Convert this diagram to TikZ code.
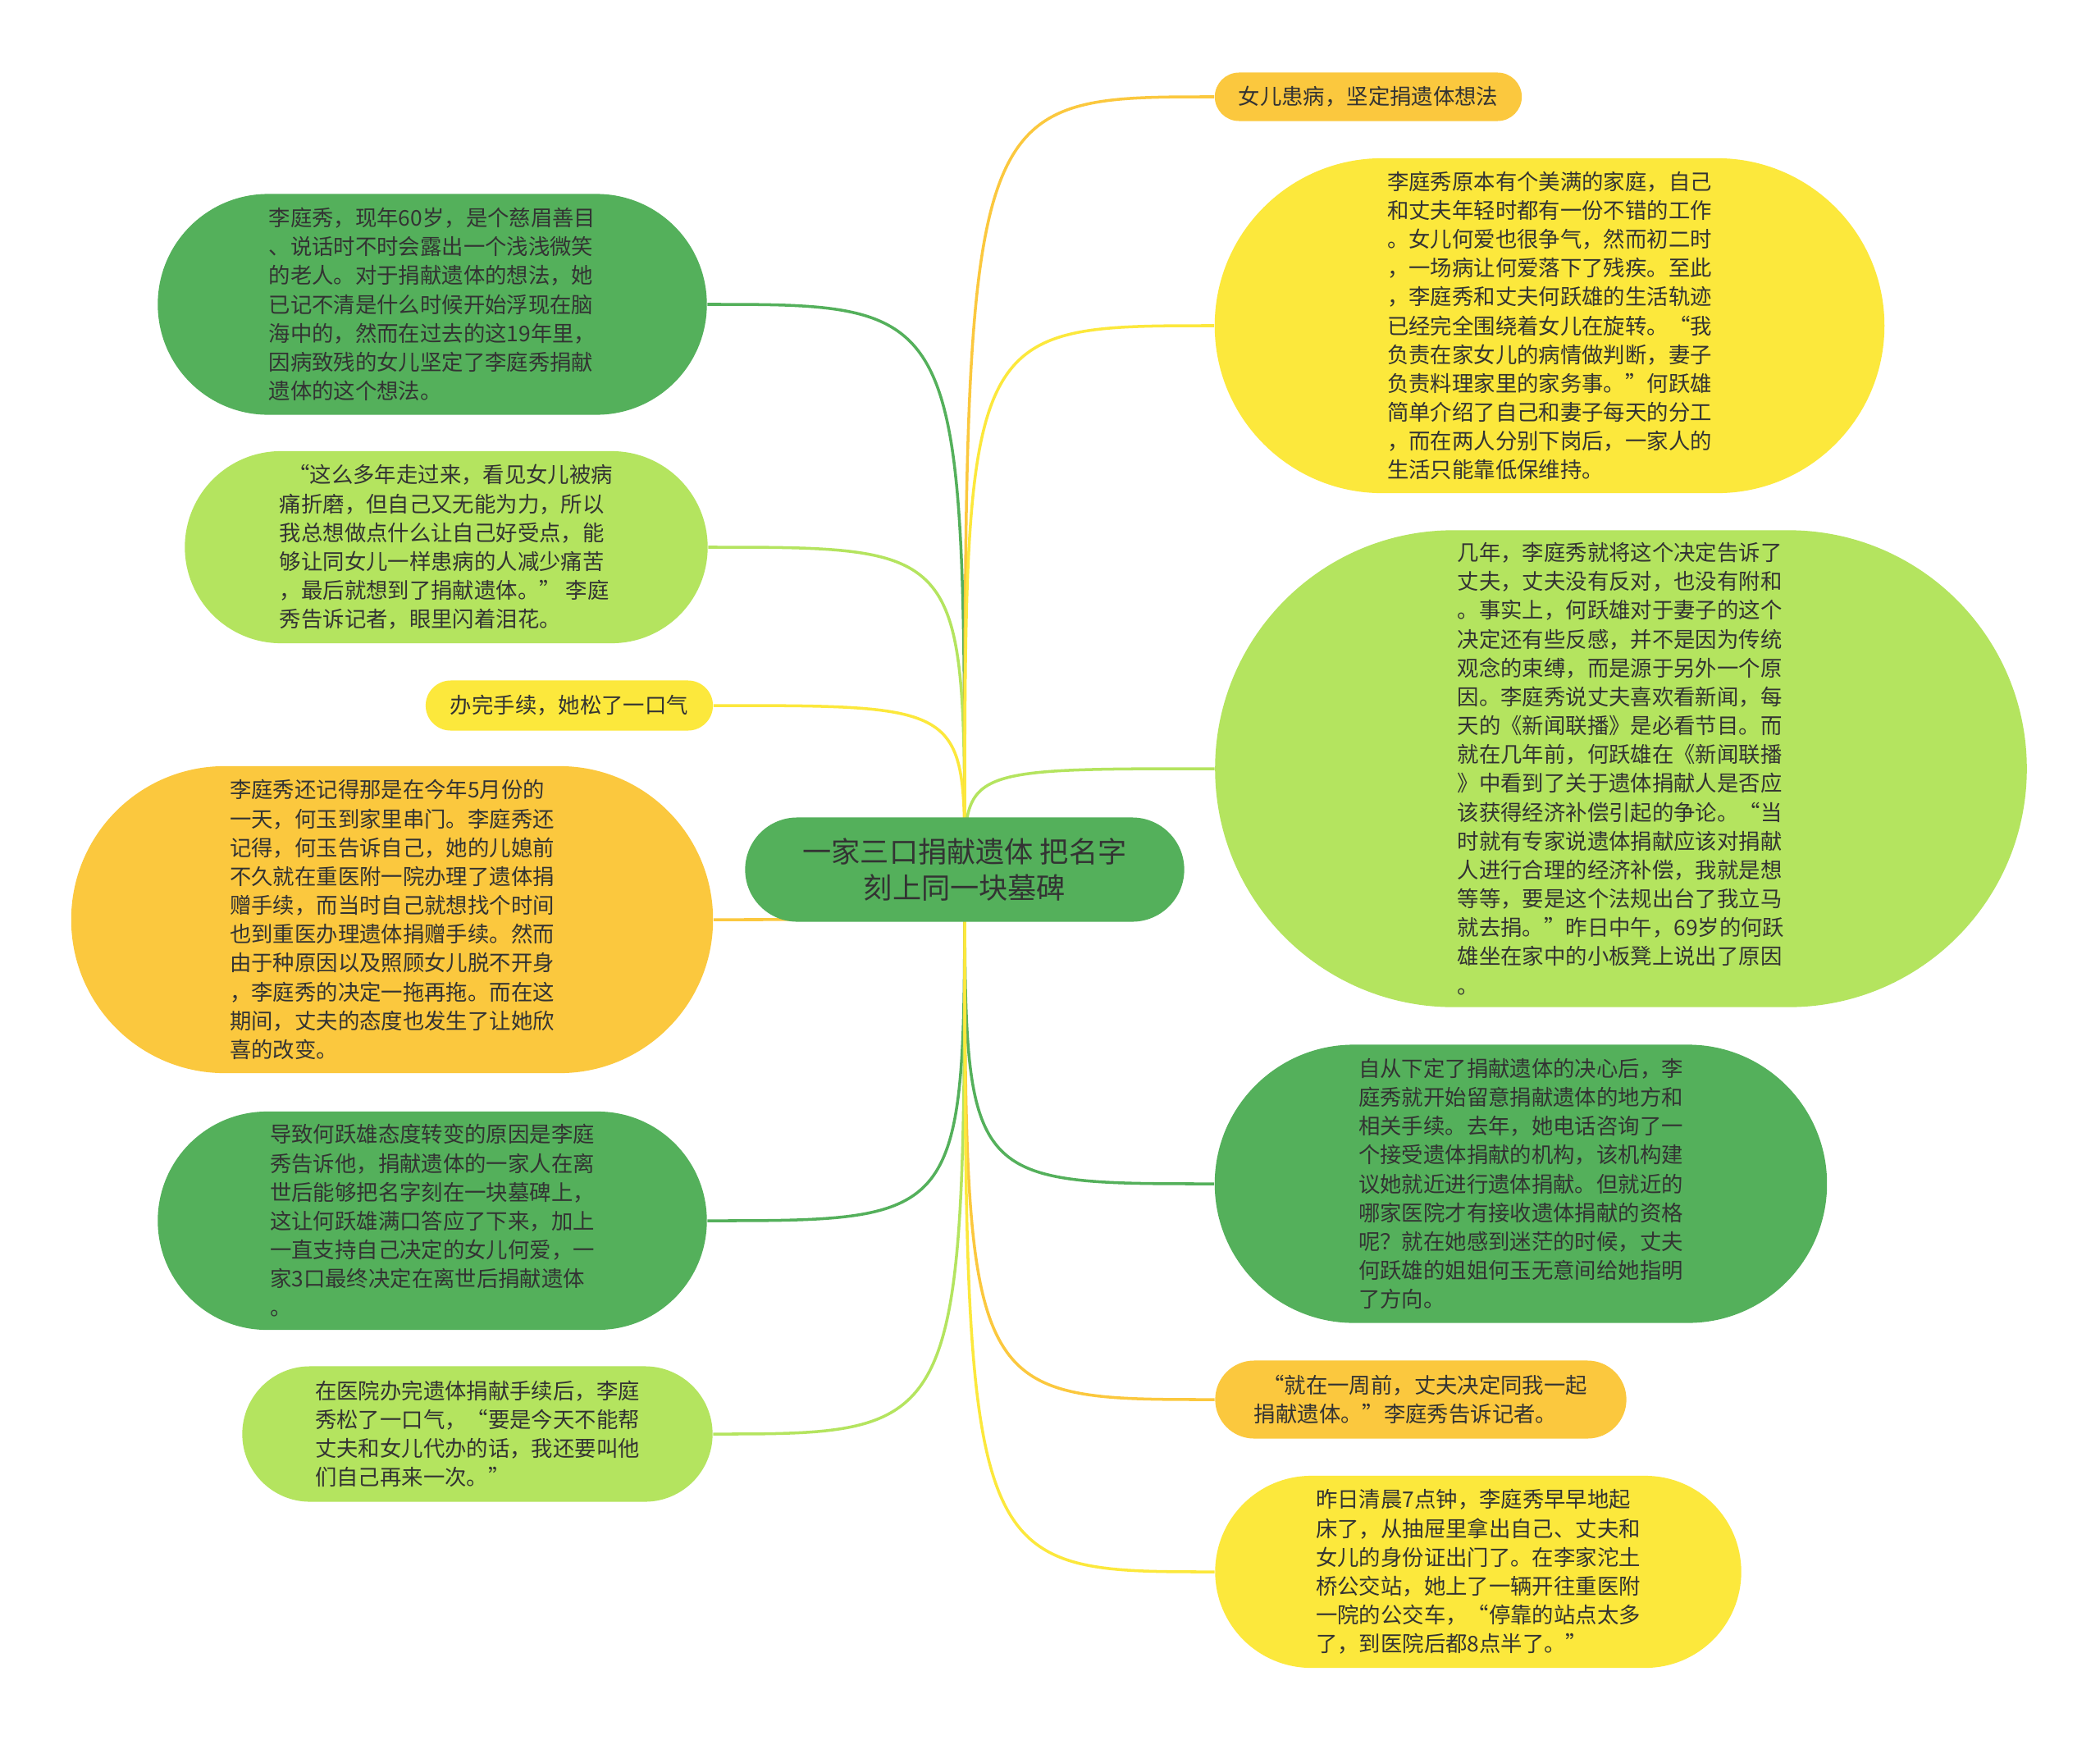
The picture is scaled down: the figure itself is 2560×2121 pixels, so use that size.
\documentclass[tikz,border=0pt]{standalone}
\usepackage{fontspec}
\setmainfont{Noto Sans CJK SC}
\usepackage{xcolor}
\usepackage{tikz}
\usetikzlibrary{shapes,backgrounds}

\definecolor{dkgreen}{HTML}{54B05B}
\definecolor{ltgreen}{HTML}{B4E45F}
\definecolor{yel}{HTML}{FCE83C}
\definecolor{orng}{HTML}{FBC83E}

\begin{document}
\begin{tikzpicture}[
    x=0.01cm, y=-0.01cm,
    topic/.style={rounded rectangle, fill=dkgreen, text=black!80, align=center, inner sep=0pt, font=\fontsize{10}{12.5}\selectfont},
    leaf/.style={rounded rectangle, inner sep=0pt, text=black!80, align=left, font=\fontsize{7.5}{10}\selectfont},
    link/.style={line width=1pt}
]
    \useasboundingbox (0,0) rectangle (2560,2121);

    \node[topic, minimum width=53.5mm, minimum height=12.7mm] (root) at (1176,1060) {一家三口捐献遗体 把名字\\刻上同一块墓碑};

    \node[leaf, fill=dkgreen, minimum width=66.9mm, minimum height=26.9mm] (l1) at (527,371) {李庭秀，现年60岁，是个慈眉善目\\、说话时不时会露出一个浅浅微笑\\的老人。对于捐献遗体的想法，她\\已记不清是什么时候开始浮现在脑\\海中的，然而在过去的这19年里，\\因病致残的女儿坚定了李庭秀捐献\\遗体的这个想法。};
    \node[leaf, fill=ltgreen, minimum width=63.7mm, minimum height=23.4mm] (l2) at (544,667) {\hspace{0.4em}“这么多年走过来，看见女儿被病\\痛折磨，但自己又无能为力，所以\\我总想做点什么让自己好受点，能\\够让同女儿一样患病的人减少痛苦\\，最后就想到了捐献遗体。” 李庭\\秀告诉记者，眼里闪着泪花。};
    \node[leaf, fill=yel, minimum width=35mm, minimum height=6.1mm] (l3) at (694,860) {办完手续，她松了一口气};
    \node[leaf, fill=orng, minimum width=78.2mm, minimum height=37.4mm] (l4) at (478,1121) {李庭秀还记得那是在今年5月份的\\一天，何玉到家里串门。李庭秀还\\记得，何玉告诉自己，她的儿媳前\\不久就在重医附一院办理了遗体捐\\赠手续，而当时自己就想找个时间\\也到重医办理遗体捐赠手续。然而\\由于种原因以及照顾女儿脱不开身\\，李庭秀的决定一拖再拖。而在这\\期间，丈夫的态度也发生了让她欣\\喜的改变。};
    \node[leaf, fill=dkgreen, minimum width=66.9mm, minimum height=26.6mm] (l5) at (527,1488) {导致何跃雄态度转变的原因是李庭\\秀告诉他，捐献遗体的一家人在离\\世后能够把名字刻在一块墓碑上，\\这让何跃雄满口答应了下来，加上\\一直支持自己决定的女儿何爱，一\\家3口最终决定在离世后捐献遗体\\。};
    \node[leaf, fill=ltgreen, minimum width=57.3mm, minimum height=16.5mm] (l6) at (582,1748) {在医院办完遗体捐献手续后，李庭\\秀松了一口气，“要是今天不能帮\\丈夫和女儿代办的话，我还要叫他\\们自己再来一次。”};

    \node[leaf, fill=orng, minimum width=37.4mm, minimum height=5.9mm] (r1) at (1668,118) {女儿患病，坚定捐遗体想法};
    \node[leaf, fill=yel, minimum width=81.6mm, minimum height=40.8mm] (r2) at (1889,397) {李庭秀原本有个美满的家庭，自己\\和丈夫年轻时都有一份不错的工作\\。女儿何爱也很争气，然而初二时\\，一场病让何爱落下了残疾。至此\\，李庭秀和丈夫何跃雄的生活轨迹\\已经完全围绕着女儿在旋转。“我\\负责在家女儿的病情做判断，妻子\\负责料理家里的家务事。”何跃雄\\简单介绍了自己和妻子每天的分工\\，而在两人分别下岗后，一家人的\\生活只能靠低保维持。};
    \node[leaf, fill=ltgreen, minimum width=98.9mm, minimum height=58.1mm] (r3) at (1976,937) {几年，李庭秀就将这个决定告诉了\\丈夫，丈夫没有反对，也没有附和\\。事实上，何跃雄对于妻子的这个\\决定还有些反感，并不是因为传统\\观念的束缚，而是源于另外一个原\\因。李庭秀说丈夫喜欢看新闻，每\\天的《新闻联播》是必看节目。而\\就在几年前，何跃雄在《新闻联播\\》中看到了关于遗体捐献人是否应\\该获得经济补偿引起的争论。“当\\时就有专家说遗体捐献应该对捐献\\人进行合理的经济补偿，我就是想\\等等，要是这个法规出台了我立马\\就去捐。”昨日中午，69岁的何跃\\雄坐在家中的小板凳上说出了原因\\。};
    \node[leaf, fill=dkgreen, minimum width=74.6mm, minimum height=33.9mm] (r4) at (1854,1443) {自从下定了捐献遗体的决心后，李\\庭秀就开始留意捐献遗体的地方和\\相关手续。去年，她电话咨询了一\\个接受遗体捐献的机构，该机构建\\议她就近进行遗体捐献。但就近的\\哪家医院才有接收遗体捐献的资格\\呢？就在她感到迷茫的时候，丈夫\\何跃雄的姐姐何玉无意间给她指明\\了方向。};
    \node[leaf, fill=orng, minimum width=50.1mm, minimum height=9.5mm] (r5) at (1732,1706) {\hspace{0.4em}“就在一周前，丈夫决定同我一起\\捐献遗体。”李庭秀告诉记者。};
    \node[leaf, fill=yel, minimum width=64.1mm, minimum height=23.4mm] (r6) at (1802,1916) {昨日清晨7点钟，李庭秀早早地起\\床了，从抽屉里拿出自己、丈夫和\\女儿的身份证出门了。在李家沱土\\桥公交站，她上了一辆开往重医附\\一院的公交车，“停靠的站点太多\\了，到医院后都8点半了。”};

    \begin{scope}[on background layer]
        \fill[white] (0,0) rectangle (2560,2121);
        \foreach \n/\c in {l1/dkgreen, l2/ltgreen, l3/yel, l4/orng, l5/dkgreen, l6/ltgreen}
            \draw[link, draw=\c] (root.center) .. controls (root.center |- \n.east) .. (\n.east);
        \foreach \n/\c in {r1/orng, r2/yel, r3/ltgreen, r4/dkgreen, r5/orng, r6/yel}
            \draw[link, draw=\c] (root.center) .. controls (root.center |- \n.west) .. (\n.west);
    \end{scope}
\end{tikzpicture}
\end{document}
